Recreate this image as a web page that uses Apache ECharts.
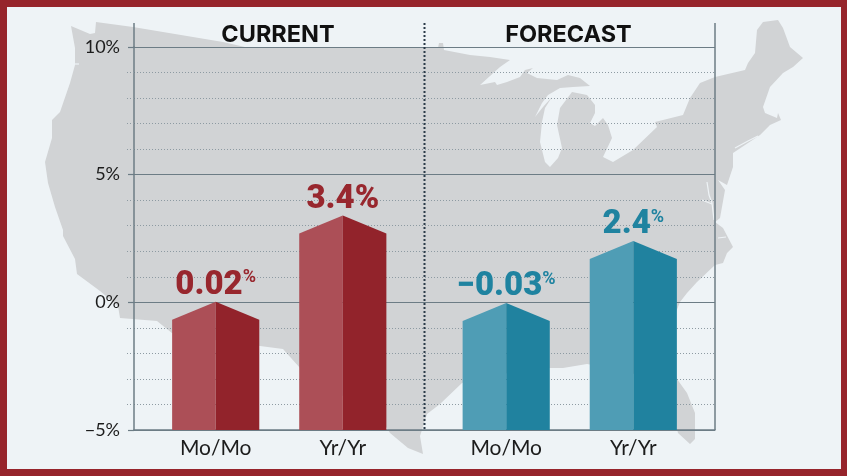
<!DOCTYPE html>
<html><head><meta charset="utf-8">
<style>html,body{margin:0;padding:0;background:#96242b}#c{width:847px;height:476px}</style>
<script src="https://cdn.jsdelivr.net/npm/echarts@6/dist/echarts.min.js"></script>
</head><body><div id="c"></div>
<script>
// ---- data ----
const categories = ['Mo/Mo', 'Yr/Yr', 'Mo/Mo', 'Yr/Yr'];
const panelTitles = ['CURRENT', 'FORECAST'];
const currentValues = [0.02, 3.4];
const forecastValues = [-0.03, 2.4];
const valueLabels = ['0.02', '3.4', '\u22120.03', '2.4'];
const yTicks = [-5, 0, 5, 10];

// ---- layout ----
const SLOTS = 32, SLOT_INDEX = [4, 11, 20, 27];
const G = {l: 134, r: 715, t: 47, b: 430, w: 847, h: 476};
const slotLabels = new Array(SLOTS).fill('').map((_, i) => String(i));
const catBySlot = {};
SLOT_INDEX.forEach((s, i) => catBySlot[s] = categories[i]);

// decorative backdrop silhouette
const BG = '#eef3f6', LAND = '#d1d3d5';
const usOutline = [[71,26],[90,34],[95,33],[96,22],[133,27],[223,42],[245,47],[438,48],[439,43],[443,43],[444,50],[470,55],[490,57],[510,60],[500,67],[480,85],[495,82],[497,85],[507,82],[520,77],[525,70],[533,68],[527,73],[537,78],[557,80],[568,75],[580,78],[590,86],[573,87],[560,88],[548,95],[542,103],[535,117],[543,107],[552,97],[545,108],[542,122],[540,142],[545,162],[550,167],[558,158],[562,148],[557,125],[560,108],[572,92],[587,95],[595,105],[595,113],[590,123],[595,126],[603,118],[608,125],[612,138],[603,157],[613,162],[633,150],[657,127],[655,122],[683,115],[690,98],[700,83],[715,77],[745,70],[748,63],[755,53],[757,30],[763,22],[778,20],[783,28],[790,47],[803,58],[793,67],[783,73],[770,87],[763,107],[765,113],[777,118],[778,113],[781,120],[770,125],[760,135],[733,153],[733,167],[727,185],[718,180],[725,190],[720,218],[715,222],[723,228],[733,247],[727,253],[723,263],[715,265],[697,282],[687,293],[680,302],[665,340],[677,379],[687,393],[695,413],[695,439],[690,444],[678,433],[672,410],[655,385],[630,372],[587,364],[563,368],[550,368],[520,372],[490,375],[462,383],[440,404],[427,414],[420,436],[423,454],[408,448],[390,433],[372,405],[340,395],[300,368],[283,349],[260,346],[215,340],[172,333],[157,321],[120,318],[118,306],[100,291],[77,274],[75,259],[63,236],[63,230],[55,207],[48,183],[45,162],[52,138],[52,120],[60,112],[70,83],[75,65],[75,48]];
const coastSlits = [
  [[735,148],[748,141],[758,136]],
  [[707,182],[709,195],[712,203],[714,220]],
  [[702,200],[712,204]],
  [[718,238],[726,237]],
  [[72,64],[79,64]]
];

function barItem(palette, labelColor) {
  return function (params, api) {
    const slot = api.value(0), v = api.value(1), label = String(api.value(2));
    const half = api.size([1, 0])[0] * 2.4;
    const shoulder = api.size([0, 0.7])[1];
    const peak = api.coord([slot, v]);
    const base = api.coord([slot, yTicks[0]]);
    const x = peak[0], y = peak[1];
    const hasSup = label !== '3.4';
    return {type: 'group', children: [
      {type: 'polygon', shape: {points: [[x - half, base[1]], [x - half, y + shoulder], [x, y], [x, base[1]]]}, style: {fill: palette[0]}},
      {type: 'polygon', shape: {points: [[x, base[1]], [x, y], [x + half, y + shoulder], [x + half, base[1]]]}, style: {fill: palette[1]}},
      {type: 'text', x: x, y: y + 1, style: {
        text: hasSup ? '{b|' + label + '}{s|%}' : '{b|' + label + '%}',
        align: 'center', verticalAlign: 'bottom',
        rich: {
          b: {fontFamily: 'Roboto', fontWeight: 900, fontSize: 33, lineHeight: 34, fill: labelColor, color: labelColor},
          s: {fontFamily: 'Roboto', fontWeight: 700, fontSize: 18, lineHeight: 34, verticalAlign: 'top', fill: labelColor, color: labelColor}
        }
      }}
    ]};
  };
}

const chart = echarts.init(document.getElementById('c'), null, {renderer: 'canvas', width: G.w, height: G.h});
const axisColor = '#6c7c85';
const dotColor = '#8d9aa2';
const titleStyle = {fontFamily: 'Inter', fontWeight: 700, fontSize: 23.5, color: '#111'};
chart.setOption({
  animation: false,
  backgroundColor: '#96242b',
  title: [
    {text: panelTitles[0], left: 278, top: 23, padding: 0, textAlign: 'center', textStyle: titleStyle},
    {text: panelTitles[1], left: 568.5, top: 23, padding: 0, textAlign: 'center', textStyle: titleStyle}
  ],
  grid: {left: G.l, top: G.t, width: G.r - G.l, height: G.b - G.t, containLabel: false},
  xAxis: {
    type: 'category', data: slotLabels, boundaryGap: true,
    axisLine: {onZero: false, lineStyle: {color: axisColor, width: 1.5}},
    axisTick: {show: false},
    splitLine: {show: false},
    axisLabel: {interval: 0, margin: 8, fontFamily: 'Lato', fontSize: 21, color: '#1c1c1c', hideOverlap: false,
      formatter: (v, i) => catBySlot[i] || ''}
  },
  yAxis: {
    type: 'value', min: yTicks[0], max: yTicks[yTicks.length - 1], interval: 5,
    axisLine: {show: true, lineStyle: {color: axisColor, width: 1.5}},
    axisTick: {show: true, length: 6, lineStyle: {color: axisColor, width: 1.2}},
    minorTick: {show: true, splitNumber: 5, length: 7, lineStyle: {color: dotColor, width: 1, type: [1, 2]}},
    splitLine: {show: true, lineStyle: {color: axisColor, width: 1.2}},
    minorSplitLine: {show: true, lineStyle: {color: dotColor, width: 1, type: [1, 2]}},
    axisLabel: {margin: 14, fontFamily: 'Lato', fontSize: 18, color: '#1c1c1c',
      formatter: v => (v < 0 ? '\u2212' + Math.abs(v) : v) + '%'}
  },
  series: [
    {type: 'custom', z: 5, renderItem: barItem(['#ac4f57', '#92232b'], '#98272e'), clip: false,
      encode: {x: 0, y: 1},
      data: currentValues.map((v, i) => [SLOT_INDEX[i], v, valueLabels[i]])},
    {type: 'custom', z: 5, renderItem: barItem(['#4f9db5', '#20829f'], '#1f83a0'), clip: false,
      encode: {x: 0, y: 1},
      data: forecastValues.map((v, i) => [SLOT_INDEX[i + 2], v, valueLabels[i + 2]])}
  ],
  graphic: [
    {type: 'rect', z: -20, shape: {x: 7, y: 7, width: 834, height: 462}, style: {fill: BG}},
    {type: 'polygon', z: -19, shape: {points: usOutline}, style: {fill: LAND}},
    ...coastSlits.map(p => ({type: 'polyline', z: -18, shape: {points: p}, style: {stroke: BG, lineWidth: 1.2, fill: null}})),
    {type: 'line', z: 3, shape: {x1: G.l, y1: 23, x2: G.l, y2: G.t}, style: {stroke: axisColor, lineWidth: 1.5}},
    {type: 'line', z: 3, shape: {x1: G.r, y1: 23, x2: G.r, y2: G.b}, style: {stroke: axisColor, lineWidth: 1.5}},
    {type: 'line', z: 3, shape: {x1: 424.5, y1: 23, x2: 424.5, y2: G.b}, style: {stroke: '#2a3a48', lineWidth: 2, lineDash: [2, 2]}}
  ]
});
</script></body></html>
